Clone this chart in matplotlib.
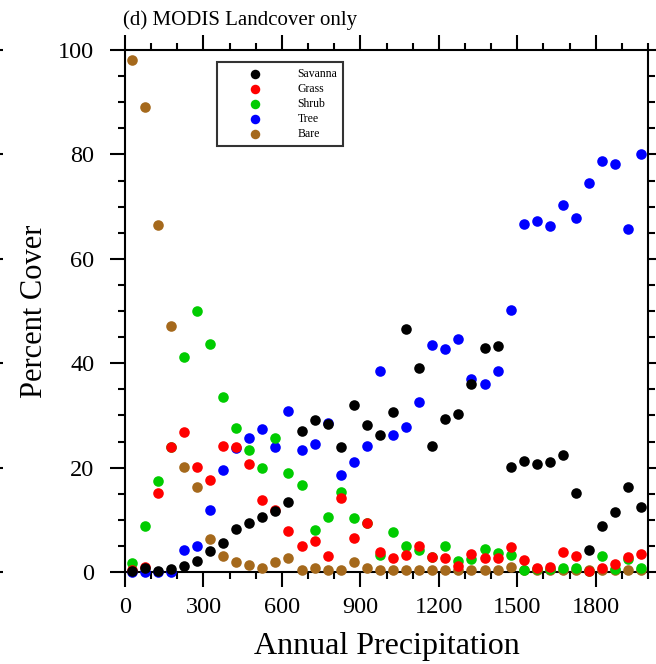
import matplotlib
matplotlib.use("Agg")
import matplotlib.pyplot as plt
from matplotlib.ticker import MultipleLocator

plt.rcParams['font.family'] = ['Liberation Serif', 'DejaVu Serif']

# annual precipitation bin centres (mm)
precip = [25, 75, 125, 175, 225, 275, 325, 375, 425, 475,
          525, 575, 625, 675, 725, 775, 825, 875, 925, 975,
          1025, 1075, 1125, 1175, 1225, 1275, 1325, 1375, 1425, 1475,
          1525, 1575, 1625, 1675, 1725, 1775, 1825, 1875, 1925, 1975]

# percent cover per landcover class
savanna = [0.1, 0.7, 0.1, 0.5, 1.1, 2.2, 4.0, 5.5, 8.2, 9.3,
           10.6, 11.6, 13.5, 27.1, 29.2, 28.3, 24.0, 31.9, 28.1, 26.2,
           30.6, 46.5, 39.0, 24.2, 29.3, 30.2, 36.0, 43.0, 43.2, 20.1,
           21.3, 20.6, 21.0, 22.4, 15.2, 4.3, 8.9, 11.4, 16.2, 12.4]
grass = [0.3, 1.0, 15.2, 24.0, 26.8, 20.1, 17.6, 24.2, 24.0, 20.7,
         13.8, 11.9, 7.9, 5.0, 5.9, 3.1, 14.1, 6.6, 9.4, 3.9,
         2.7, 3.3, 4.9, 2.8, 2.6, 1.1, 3.4, 2.6, 2.6, 4.8,
         2.3, 0.8, 1.0, 3.8, 3.1, 0.1, 0.8, 1.5, 2.9, 3.4]
shrub = [1.8, 8.8, 17.5, 24.0, 41.1, 50.0, 43.6, 33.6, 27.6, 23.4,
         19.9, 25.6, 19.0, 16.7, 8.0, 10.5, 15.3, 10.4, 9.4, 3.3,
         7.6, 5.0, 4.3, 2.8, 5.0, 2.1, 2.4, 4.5, 3.7, 3.3,
         0.4, 0.5, 0.5, 0.7, 0.7, 0.2, 3.1, 0.5, 2.4, 0.7]
tree = [0.0, 0.0, 0.0, 0.0, 4.2, 4.9, 11.9, 19.5, 23.8, 25.6,
        27.3, 24.0, 30.8, 23.4, 24.6, 28.5, 18.5, 21.1, 24.2, 38.5,
        26.2, 27.8, 32.6, 43.5, 42.8, 44.6, 37.0, 36.1, 38.5, 50.2,
        66.6, 67.2, 66.3, 70.3, 67.9, 74.5, 78.8, 78.2, 65.8, 80.0]
bare = [98.1, 89.1, 66.5, 47.1, 20.1, 16.2, 6.3, 3.1, 1.9, 1.3,
        0.8, 1.9, 2.6, 0.3, 0.8, 0.3, 0.3, 2.0, 0.8, 0.3,
        0.3, 0.3, 0.3, 0.3, 0.3, 0.3, 0.3, 0.3, 0.3, 1.0,
        0.3, 0.3, 0.3, 0.3, 0.3, 0.3, 0.3, 0.3, 0.3, 0.3]

labels = ['Savanna', 'Grass', 'Shrub', 'Tree', 'Bare']
series = [savanna, grass, shrub, tree, bare]
colors = ['black', '#ff0000', '#00cc00', '#0000ff', '#a5691c']

W, H = 656, 664
fig = plt.figure(figsize=(W / 100, H / 100), dpi=100)
ax = fig.add_axes([125 / W, 1 - 572 / H, 523 / W, 522 / H])

# draw Bare first so Savanna ends up on top
handles = {}
for lab, vals, col in reversed(list(zip(labels, series, colors))):
    handles[lab] = ax.scatter(precip, vals, s=58, color=col, linewidths=0,
                              clip_on=False, zorder=3)

ax.set_xlim(0, 2000)
ax.set_ylim(0, 100)
ax.xaxis.set_major_locator(MultipleLocator(300))
ax.xaxis.set_minor_locator(MultipleLocator(100))
ax.yaxis.set_major_locator(MultipleLocator(20))
ax.yaxis.set_minor_locator(MultipleLocator(5))
ax.tick_params(which='both', direction='out', top=True, right=True, width=1.5)
ax.tick_params(which='major', length=11, labelsize=17.5)
ax.tick_params(axis='y', which='major', pad=11)
ax.tick_params(axis='x', which='major', pad=7)
ax.tick_params(which='minor', length=5)
for sp in ax.spines.values():
    sp.set_linewidth(1.5)

ax.set_xlabel('Annual Precipitation', fontsize=23, labelpad=10)
ax.set_ylabel('Percent Cover', fontsize=22, labelpad=7)
fig.text(123 / W, 1 - 20 / H, '(d) MODIS Landcover only', fontsize=15,
         ha='left', va='center')

leg = ax.legend([handles[l] for l in labels], labels, loc='upper left',
                bbox_to_anchor=(0.176, 0.977), fontsize=8.5, frameon=True,
                fancybox=False, edgecolor='black', borderpad=0.5,
                handlelength=5.4, handletextpad=0.9, labelspacing=0.25,
                markerscale=0.9, borderaxespad=0)
leg.get_frame().set_linewidth(1.5)

# right edge of the neighbouring panel's axis ticks
ax0 = fig.add_axes([-0.5, 1 - 572 / H, 0.5 - 12 / W, 522 / H])
ax0.set_ylim(0, 100)
ax0.yaxis.set_major_locator(MultipleLocator(20))
ax0.tick_params(left=False, labelleft=False, bottom=False, labelbottom=False,
                right=True, direction='out', length=11, width=1.5)
for sp in ax0.spines.values():
    sp.set_visible(False)

fig.savefig('out.png', dpi=100)
